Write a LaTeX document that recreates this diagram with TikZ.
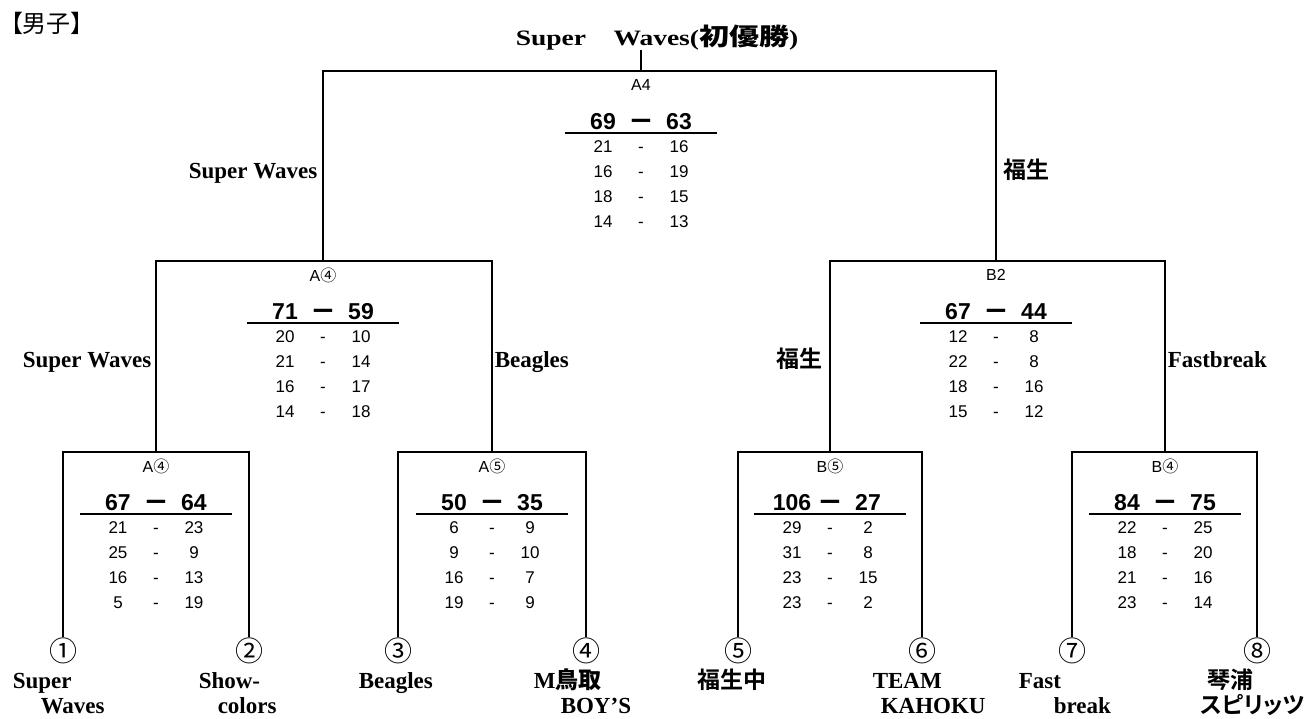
\documentclass[tikz,border=0pt]{standalone}
\usepackage{fontspec}
\setmainfont{Liberation Serif}
\setsansfont{Liberation Sans}
\newfontfamily\jpfont{Noto Sans CJK JP}[RawFeature=+palt]
\newfontfamily\jpbold{Noto Sans CJK JP Bold}[RawFeature=+palt]

\newcommand\result[5]{%
  \begin{scope}[shift={(#1)}]
    \node[rnd] (#1-no) at (0,14) {#2};
    \node[big] (#1-a) at (-38,50) {#3};
    \node[big] (#1-d) at (0,50) {\scalebox{0.8}[1.4]{—}};
    \node[big] (#1-b) at (38,50) {#4};
    \draw (-76,62) -- (76,62);
    \foreach \p/\q [count=\i] in {#5} {
      \node[set] (#1-\i a) at (-38,50+25*\i) {\p};
      \node[set] (#1-\i d) at (0,50+25*\i) {-};
      \node[set] (#1-\i b) at (38,50+25*\i) {\q};
    }
  \end{scope}}

\begin{document}
\begin{tikzpicture}[x=1pt,y=-1pt,line width=1.5pt,
  title/.style={font=\fontsize{22}{22}\selectfont\bfseries,inner sep=0},
  team/.style={font=\fontsize{23}{23}\selectfont\bfseries,inner sep=0},
  jteam/.style={font=\fontsize{23}{23}\selectfont\jpbold,inner sep=0},
  rnd/.style={font=\fontsize{16}{16}\selectfont\sffamily,inner sep=0},
  big/.style={font=\fontsize{23}{23}\selectfont\sffamily\bfseries,inner sep=0,text height=16.5pt,text depth=0pt},
  set/.style={font=\fontsize{17}{17}\selectfont\sffamily,inner sep=0,text height=12pt,text depth=0pt},
  seed/.style={font=\fontsize{28}{28}\selectfont\jpfont,inner sep=0},
  ]
\useasboundingbox (0,0) rectangle (1308,718);

\node[anchor=west,font=\fontsize{24}{24}\selectfont\jpfont,inner sep=0] (head) at (10,23) {【男子】};
\node[title,anchor=base] (champ) at (657,45)
  {\scalebox{1.25}[1]{Super\hspace{1em}Waves({\fontsize{24}{24}\selectfont\jpbold 初優勝})}};

\coordinate (f) at (641,71);
\coordinate (s1) at (323,261);
\coordinate (s2) at (996,261);
\coordinate (a1) at (156,452);
\coordinate (a2) at (492,452);
\coordinate (a3) at (830,452);
\coordinate (a4) at (1165,452);

\node[seed] (n1) at (63,651) {①};
\node[seed] (n2) at (249,651) {②};
\node[seed] (n3) at (398,651) {③};
\node[seed] (n4) at (586,651) {④};
\node[seed] (n5) at (738,651) {⑤};
\node[seed] (n6) at (922,651) {⑥};
\node[seed] (n7) at (1072,651) {⑦};
\node[seed] (n8) at (1257,651) {⑧};

\draw (n1.north) |- (a1) -| (n2.north);
\draw (n3.north) |- (a2) -| (n4.north);
\draw (n5.north) |- (a3) -| (n6.north);
\draw (n7.north) |- (a4) -| (n8.north);
\draw (a1) |- (s1) -| (a2);
\draw (a3) |- (s2) -| (a4);
\draw (s1) |- (f) -| (s2);
\draw (f) -- (f |- champ.south);

\result{f}{A4}{69}{63}{21/16,16/19,18/15,14/13}
\result{s1}{A{\jpfont ④}}{71}{59}{20/10,21/14,16/17,14/18}
\result{s2}{B2}{67}{44}{12/8,22/8,18/16,15/12}
\result{a1}{A{\jpfont ④}}{67}{64}{21/23,25/9,16/13,5/19}
\result{a2}{A{\jpfont ⑤}}{50}{35}{6/9,9/10,16/7,19/9}
\result{a3}{B{\jpfont ⑤}}{106}{27}{29/2,31/8,23/15,23/2}
\result{a4}{B{\jpfont ④}}{84}{75}{22/25,18/20,21/16,23/14}

\node[team,anchor=base east] (w1) at (318,178) {Super Waves};
\node[jteam,anchor=base west] (w2) at (1003,178) {福生};
\node[team,anchor=base east] (w11) at (152,367) {Super Waves};
\node[team,anchor=base west] (w12) at (494,367) {Beagles};
\node[jteam,anchor=base east] (w21) at (823,367) {福生};
\node[team,anchor=base west] (w22) at (1167,367) {Fastbreak};

\node[team,anchor=base west] (t1) at (12,688) {Super};
\node[team,anchor=base west] (t1b) at (40,713) {Waves};
\node[team,anchor=base west] (t2) at (198,688) {Show-};
\node[team,anchor=base west] (t2b) at (217,713) {colors};
\node[team,anchor=base west] (t3) at (358,688) {Beagles};
\node[team,anchor=base west] (t4) at (533,688) {M{\jpbold 鳥取}};
\node[team,anchor=base west] (t4b) at (560,713) {BOY'S};
\node[jteam,anchor=base west] (t5) at (697,688) {福生中};
\node[team,anchor=base west] (t6) at (872,688) {TEAM};
\node[team,anchor=base west] (t6b) at (880,713) {KAHOKU};
\node[team,anchor=base west] (t7) at (1018,688) {Fast};
\node[team,anchor=base west] (t7b) at (1053,713) {break};
\node[jteam,anchor=base west] (t8) at (1207,688) {琴浦};
\node[jteam,anchor=base west] (t8b) at (1200,713) {スピリッツ};

\end{tikzpicture}
\end{document}
